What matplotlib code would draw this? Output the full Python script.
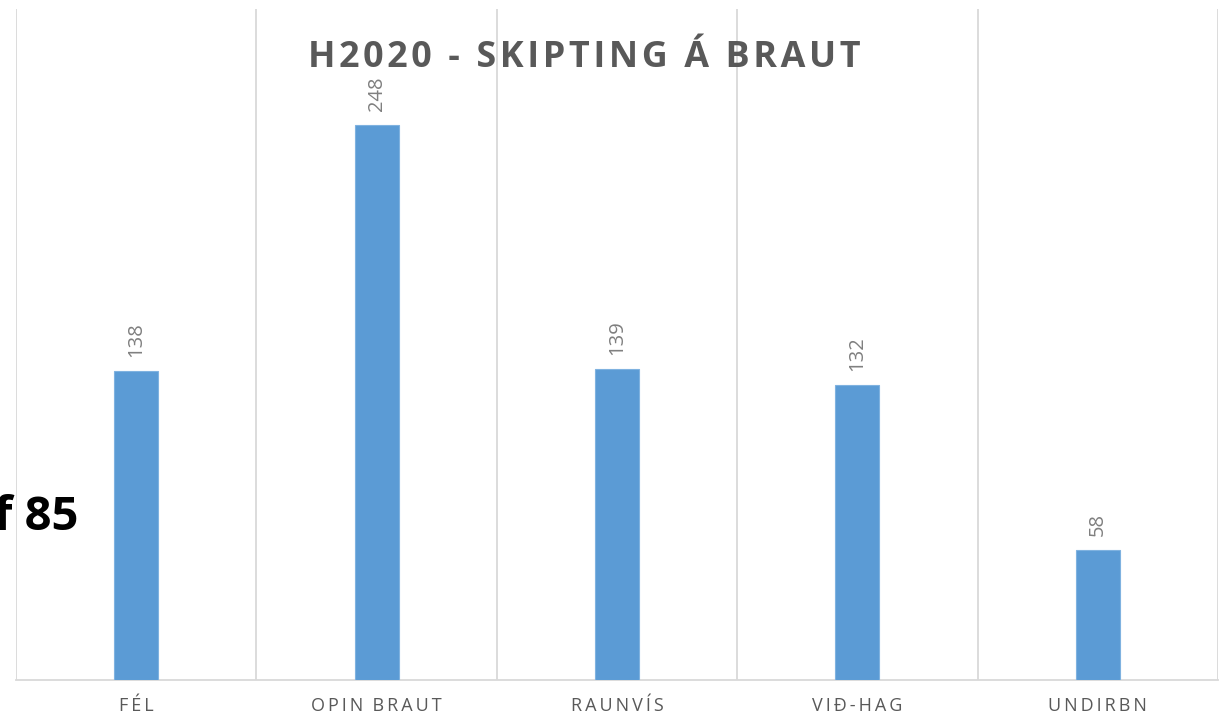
import matplotlib.pyplot as plt
import numpy as np

plt.rcParams['font.family'] = ['Open Sans', 'DejaVu Sans']

categories = ['FÉL', 'OPIN BRAUT', 'RAUNVÍS', 'VIÐ-HAG', 'UNDIRBN']
values = [138, 248, 139, 132, 58]

def spaced(s, sp='\u2009', gap='  '):
    # letter spacing like the original
    return sp.join(s).replace(sp + ' ' + sp, gap)

W, H = 1222, 718
fig = plt.figure(figsize=(W / 100, H / 100), dpi=100)
ax = fig.add_axes([16 / W, (H - 680) / H, (1218 - 16) / W, (680 - 9) / H])

x = np.arange(len(categories))
bars = ax.bar(x, values, width=0.183, color='#5B9BD5', edgecolor='#7FB2E0', linewidth=0.8, zorder=3)

ax.set_xlim(-0.5, len(categories) - 0.5)
ax.set_ylim(0, 300)

# vertical gridlines at category boundaries
for b in np.arange(-0.5, len(categories), 1):
    ax.axvline(b, color='#D9D9D9', lw=1.3, zorder=1)

for s in ['top', 'right', 'left']:
    ax.spines[s].set_visible(False)
ax.spines['bottom'].set_color('#D9D9D9')
ax.spines['bottom'].set_linewidth(1.3)

ax.set_yticks([])
ax.set_xticks(x)
ax.set_xticklabels([spaced(c) for c in categories], color='#595959', fontsize=13)
ax.tick_params(axis='x', length=0, pad=12)

for xi, v in zip(x, values):
    ax.annotate(str(v), (xi, v), xytext=(0, 10), textcoords='offset points',
                rotation=90, ha='center', va='bottom', color='#7F7F7F', fontsize=14.5)

fig.text(584 / W, 1 - 58 / H, spaced('H2020 - SKIPTING Á BRAUT', '\u200a', ' \u2009'), ha='center', va='center',
         fontsize=25.8, fontweight='bold', color='#595959')

fig.text(78 / W, 1 - 518 / H, 'f 85', ha='right', va='center',
         fontsize=34, fontweight='bold', color='black')

fig.savefig('out.png', dpi=100)
